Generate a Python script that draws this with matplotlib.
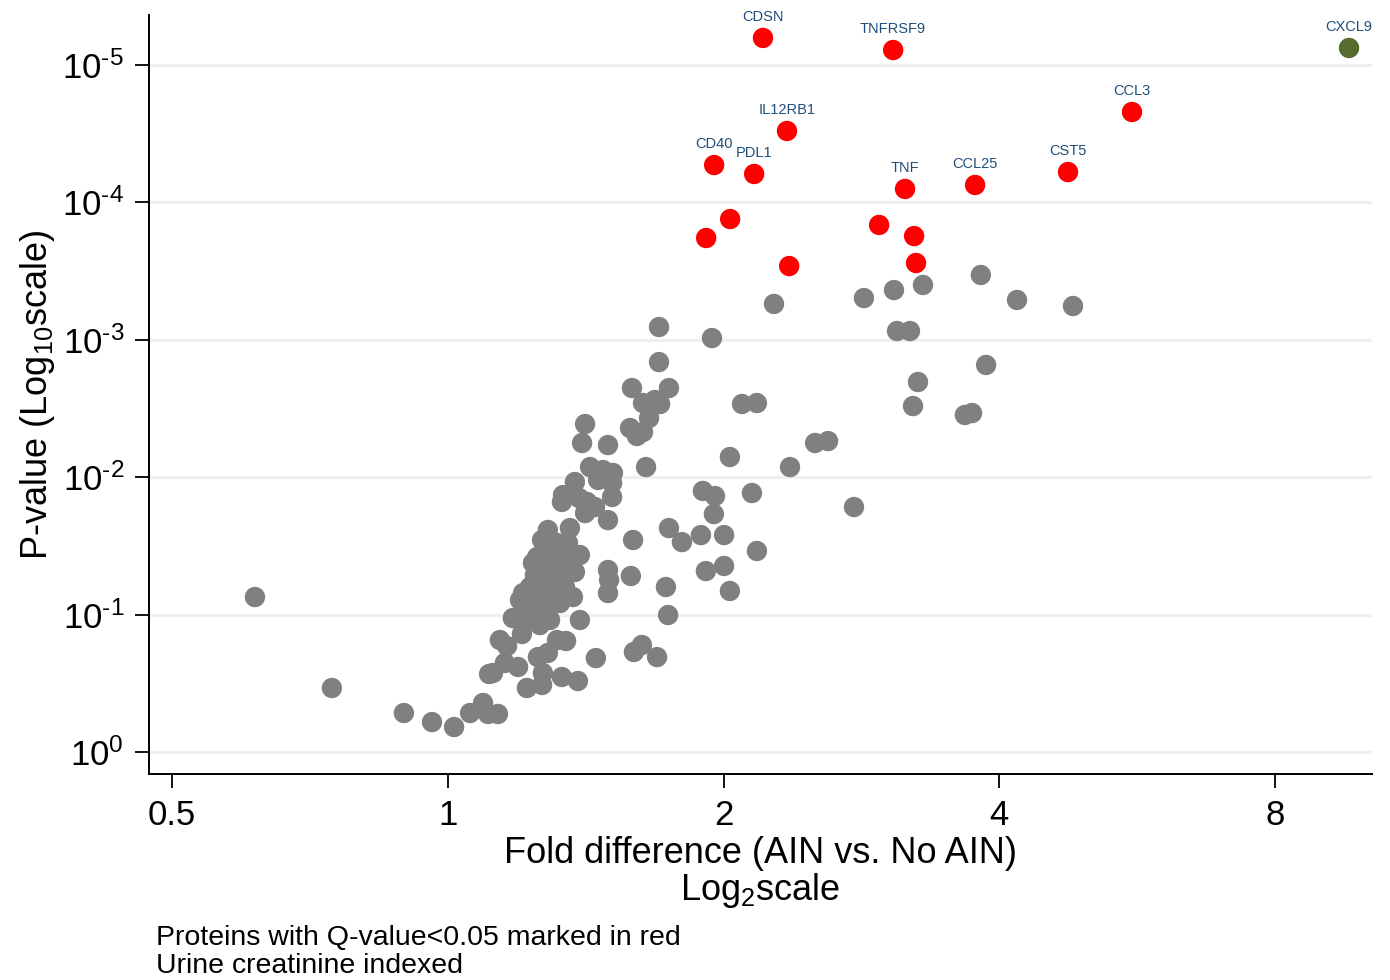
import numpy as np
import matplotlib
matplotlib.use("Agg")
from matplotlib import pyplot as plt
from matplotlib.ticker import FixedLocator, NullLocator, FuncFormatter

plt.rcParams['font.family'] = ['Liberation Sans', 'DejaVu Sans']
plt.rcParams['mathtext.fontset'] = 'custom'
plt.rcParams['mathtext.rm'] = 'Liberation Sans'
plt.rcParams['mathtext.it'] = 'Liberation Sans'

# proteins not passing the Q-value cut (log2 fold, -log10 p)
gray_log2_fold = [
    1.183, 1.509, 1.618, 1.723, 1.933, 2.064, 2.267, 0.958, 1.629, 1.676,
    1.952, 1.705, 1.687, 1.875, 1.901, 1.067, 1.121, 1.332, 1.379, 1.023,
    1.241, 1.473, 1.103, 1.121, 0.925, 0.969, 0.965, 0.918, 1.002, 0.936,
    1.002, 1.023, 0.766, 0.766, 0.668, 0.802, 0.708, 0.751, 0.770, 0.730,
    0.661, 0.686, 0.708, 0.498, 0.487, 0.581, 0.719, 0.516, 0.563, 0.599,
    0.461, 0.545, 0.596, 0.418, 0.414, 0.505, 0.534, 0.498, 0.581, 0.596,
    0.476, 0.672, 0.802, 0.849, 0.664, 0.791, 0.799, 0.537, 0.675, 0.704,
    0.759, 0.363, 0.443, 0.342, 0.396, 0.436, 0.324, 0.371, 0.414, 0.479,
    0.309, 0.360, 0.407, 0.461, 0.334, 0.389, 0.298, 0.273, 0.327, 0.378,
    0.262, 0.309, 0.360, 0.287, 0.342, 0.236, 0.298, 0.371, 0.479, 0.269,
    0.581, 0.585, 0.581, 0.189, 0.215, 0.207, 0.255, 0.164, 0.327, 0.396,
    0.429, 0.363, 0.345, 0.414, 0.472, 0.287, 0.342, 0.150, -0.159, -0.057,
    0.023, 0.081, 0.128, 0.146, 0.182, -0.420, -0.699, 0.353, 0.425, 0.378,
    0.425, 0.316, 0.407, 0.454, 0.334,
]
gray_neglog10_p = [
    3.261, 3.304, 3.362, 3.399, 3.472, 3.290, 3.246, 3.013, 3.064, 3.064,
    2.817, 2.693, 2.518, 2.453, 2.467, 2.533, 2.540, 2.249, 2.263, 2.147,
    2.074, 1.783, 1.885, 1.463, 1.900, 1.863, 1.732, 1.579, 1.579, 1.317,
    1.354, 1.172, 3.093, 2.838, 2.649, 2.649, 2.540, 2.562, 2.533, 2.431,
    2.358, 2.300, 2.329, 2.387, 2.249, 2.234, 2.074, 2.074, 2.052, 2.031,
    1.965, 1.980, 1.958, 1.870, 1.820, 1.820, 1.783, 1.739, 1.688, 1.856,
    1.849, 1.543, 1.630, 1.528, 1.281, 1.201, 0.997, 0.684, 0.728, 0.779,
    0.691, 1.616, 1.630, 1.543, 1.521, 1.521, 1.419, 1.419, 1.434, 1.434,
    1.376, 1.325, 1.325, 1.310, 1.252, 1.237, 1.201, 1.157, 1.157, 1.128,
    1.106, 1.084, 1.055, 1.048, 1.033, 0.975, 0.961, 0.961, 0.961, 0.859,
    1.325, 1.252, 1.157, 0.815, 0.771, 0.648, 0.619, 0.575, 0.691, 0.815,
    0.808, 0.721, 0.575, 0.546, 0.517, 0.466, 0.488, 0.568, 0.284, 0.218,
    0.182, 0.284, 0.357, 0.277, 0.277, 0.466, 1.128, 1.485, 1.397, 1.194,
    1.201, 1.288, 1.084, 1.128, 0.924,
]

# proteins with Q-value < 0.05
red_names = ['CDSN', 'TNFRSF9', 'CCL3', 'IL12RB1', 'CD40', 'PDL1', 'TNF',
             'CCL25', 'CST5', '', '', '', '', '', '']
red_log2_fold = [1.143, 1.615, 2.481, 1.230, 0.966, 1.111, 1.658,
                 1.912, 2.249, 1.024, 0.937, 1.238, 1.564, 1.691, 1.698]
red_neglog10_p = [5.197, 5.109, 4.658, 4.520, 4.272, 4.207, 4.098,
                  4.127, 4.221, 3.879, 3.741, 3.537, 3.836, 3.755, 3.559]

green_name = 'CXCL9'
green_log2_fold = [3.268]
green_neglog10_p = [5.124]

x_ticks = [0.5, 1, 2, 4, 8]
y_ticks = [1e0, 1e-1, 1e-2, 1e-3, 1e-4, 1e-5]


def to_fold(v):
    return 2.0 ** np.asarray(v)


def to_p(v):
    return 10.0 ** (-np.asarray(v))


def pow10_label(v, pos):
    e = int(round(np.log10(v)))
    return r'$10^{\text{%d}}$' % e


fig = plt.figure(figsize=(13.9, 9.8), dpi=100)
ax = fig.add_axes([0.1072, 0.2102, 0.8800, 0.7745])

for y in y_ticks:
    ax.axhline(y, color='#eaf0f3', lw=2.2, zorder=0)

dot = 215
ax.scatter(to_fold(gray_log2_fold), to_p(gray_neglog10_p), s=dot,
           color='#808080', edgecolors='none', zorder=2)
ax.scatter(to_fold(red_log2_fold), to_p(red_neglog10_p), s=dot,
           color='#ff0000', edgecolors='none', zorder=3)
ax.scatter(to_fold(green_log2_fold), to_p(green_neglog10_p), s=dot,
           color='#556b2f', edgecolors='none', zorder=3)

lab_x = list(to_fold(red_log2_fold)) + list(to_fold(green_log2_fold))
lab_y = list(to_p(red_neglog10_p)) + list(to_p(green_neglog10_p))
for name, xv, yv in zip(red_names + [green_name], lab_x, lab_y):
    if name:
        ax.annotate(name, (xv, yv), xytext=(0, 15), textcoords='offset points',
                    ha='center', va='center', fontsize=10.5, color='#1f4e79')

ax.set_xscale('log', base=2)
ax.set_yscale('log')
ax.set_xlim(0.472, 10.21)
ax.set_ylim(1.445, 10 ** -5.364)

ax.xaxis.set_major_locator(FixedLocator(x_ticks))
ax.xaxis.set_minor_locator(NullLocator())
ax.xaxis.set_major_formatter(FuncFormatter(lambda v, pos: '%g' % v))
ax.yaxis.set_major_locator(FixedLocator(y_ticks))
ax.yaxis.set_minor_locator(NullLocator())
ax.yaxis.set_major_formatter(FuncFormatter(pow10_label))

ax.tick_params(axis='both', labelsize=25, length=10, width=1.3, pad=8)
for side in ['top', 'right']:
    ax.spines[side].set_visible(False)
for side in ['left', 'bottom']:
    ax.spines[side].set_linewidth(1.4)

ax.set_xlabel('Fold difference (AIN vs. No AIN)\nLog$_{2}$scale',
              fontsize=26, linespacing=1.0, labelpad=3)
ax.set_ylabel('P-value (Log$_{10}$scale)', fontsize=26, labelpad=4)

fig.text(0.112, 0.056, 'Proteins with Q-value<0.05 marked in red\nUrine creatinine indexed',
         fontsize=20.5, va='top', ha='left', linespacing=1.1)

fig.savefig('out.png', dpi=100)
